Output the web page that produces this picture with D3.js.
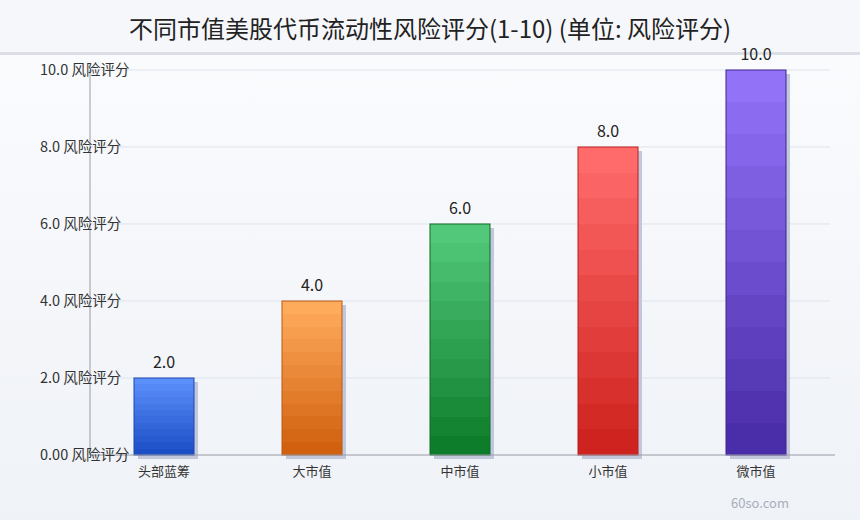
<!DOCTYPE html>
<html>
<head>
<meta charset="utf-8">
<script src="https://cdn.jsdelivr.net/npm/d3@7"></script>
<style>
body{margin:0;padding:0;}
svg{display:block;font-family:"Noto Sans CJK SC","Noto Sans",sans-serif;}
</style>
</head>
<body>
<script>
var categories = ["头部蓝筹", "大市值", "中市值", "小市值", "微市值"];
var riskScores = [2, 4, 6, 8, 10];
var tickValues = [0, 2, 4, 6, 8, 10];
var tickLabels = ["0.00 风险评分", "2.0 风险评分", "4.0 风险评分", "6.0 风险评分", "8.0 风险评分", "10.0 风险评分"];
var topColors = ["#5b8ffa", "#ffab5c", "#52c97a", "#ff6b6b", "#9272f7"];
var bottomColors = ["#1c4fc6", "#d1610f", "#0e7d2b", "#cf231f", "#4a2da8"];
var edgeColors = ["#1d48b0", "#b95a12", "#0e6b25", "#b82020", "#3f2690"];

var width = 860, height = 520;
var margin = {top: 70, right: 30, bottom: 65, left: 90};

var svg = d3.select("body").append("svg")
    .attr("width", width)
    .attr("height", height);

var defs = svg.append("defs");
var bg = defs.append("linearGradient").attr("id", "bg")
    .attr("x1", 0).attr("y1", 0).attr("x2", 0).attr("y2", 1);
bg.append("stop").attr("offset", "0%").attr("stop-color", "#fbfcfe");
bg.append("stop").attr("offset", "100%").attr("stop-color", "#eff2f7");

svg.append("rect").attr("width", width).attr("height", height).attr("fill", "url(#bg)");
svg.append("rect").attr("width", width).attr("height", 53).attr("fill", "#f6f7fa");
svg.append("rect").attr("y", 52).attr("width", width).attr("height", 3).attr("fill", "#dcdfe7");

svg.append("text")
    .attr("x", width / 2)
    .attr("y", 38)
    .attr("text-anchor", "middle")
    .attr("font-size", "24px")
    .attr("fill", "#222")
    .text("不同市值美股代币流动性风险评分(1-10) (单位: 风险评分)");

var x = d3.scalePoint()
    .domain(categories)
    .range([margin.left, width - margin.right])
    .padding(0.5);

var y = d3.scaleLinear()
    .domain([0, 10])
    .range([height - margin.bottom, margin.top]);

var barWidth = 60;

// gridlines
svg.append("g").selectAll("line")
    .data(tickValues.slice(1))
    .enter().append("line")
    .attr("x1", margin.left)
    .attr("x2", width - margin.right)
    .attr("y1", function(d) { return y(d); })
    .attr("y2", function(d) { return y(d); })
    .attr("stroke", "#dfe3ec")
    .attr("stroke-width", 1);

// bar gradients (stepped look)
categories.forEach(function(c, i) {
  var g = defs.append("linearGradient").attr("id", "bar" + i)
      .attr("x1", 0).attr("y1", 0).attr("x2", 0).attr("y2", 1);
  var steps = 12;
  var interp = d3.interpolateRgb(topColors[i], bottomColors[i]);
  for (var s = 0; s < steps; s++) {
    g.append("stop").attr("offset", (s / steps * 100) + "%").attr("stop-color", interp(s / (steps - 1)));
    g.append("stop").attr("offset", ((s + 1) / steps * 100) + "%").attr("stop-color", interp(s / (steps - 1)));
  }
});

// shadows
svg.append("g").selectAll("rect")
    .data(riskScores)
    .enter().append("rect")
    .attr("x", function(d, i) { return x(categories[i]) - barWidth / 2 + 4; })
    .attr("y", function(d) { return y(d) + 4; })
    .attr("width", barWidth)
    .attr("height", function(d) { return y(0) - y(d); })
    .attr("fill", "#c3c7dc");

svg.append("g").selectAll("rect")
    .data(riskScores)
    .enter().append("rect")
    .attr("x", function(d, i) { return x(categories[i]) - barWidth / 2; })
    .attr("y", function(d) { return y(d); })
    .attr("width", barWidth)
    .attr("height", function(d) { return y(0) - y(d); })
    .attr("fill", function(d, i) { return "url(#bar" + i + ")"; })
    .attr("stroke", function(d, i) { return edgeColors[i]; })
    .attr("stroke-width", 1);

// value labels
svg.append("g").selectAll("text")
    .data(riskScores)
    .enter().append("text")
    .attr("x", function(d, i) { return x(categories[i]); })
    .attr("y", function(d) { return y(d) - 10; })
    .attr("text-anchor", "middle")
    .attr("font-size", "16px")
    .attr("fill", "#222")
    .text(function(d) { return d3.format(".1f")(d); });

// axes lines
svg.append("line")
    .attr("x1", margin.left).attr("x2", margin.left)
    .attr("y1", margin.top).attr("y2", y(0))
    .attr("stroke", "#9a9ca8");
svg.append("line")
    .attr("x1", margin.left).attr("x2", width - 25)
    .attr("y1", y(0)).attr("y2", y(0))
    .attr("stroke", "#9a9ca8");

// y tick labels
svg.append("g").selectAll("text")
    .data(tickValues)
    .enter().append("text")
    .attr("x", 40)
    .attr("y", function(d) { return y(d); })
    .attr("dy", "0.35em")
    .attr("font-size", "14.5px")
    .attr("fill", "#333")
    .text(function(d, i) { return tickLabels[i]; });

// x labels
svg.append("g").selectAll("text")
    .data(categories)
    .enter().append("text")
    .attr("x", function(d) { return x(d); })
    .attr("y", y(0) + 21)
    .attr("text-anchor", "middle")
    .attr("font-size", "13px")
    .attr("fill", "#333")
    .text(function(d) { return d; });

svg.append("text")
    .attr("x", 760)
    .attr("y", 508)
    .attr("text-anchor", "middle")
    .attr("font-size", "13px")
    .attr("fill", "#a9adbd")
    .text("60so.com");
</script>
</body>
</html>
